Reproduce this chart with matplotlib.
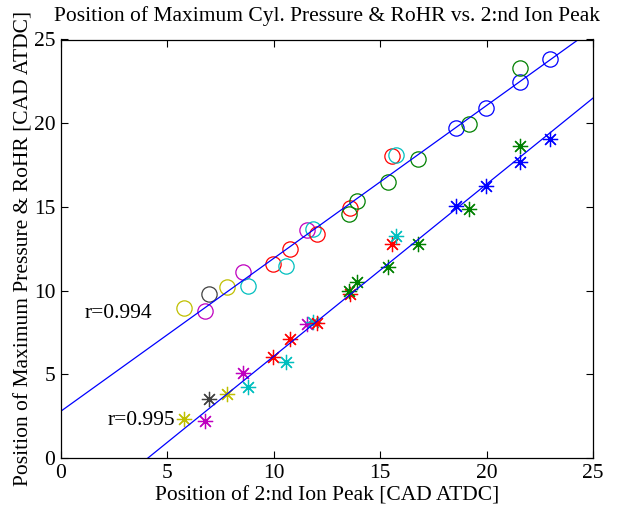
import matplotlib
matplotlib.use("Agg")
import matplotlib.pyplot as plt
import numpy as np

plt.rcParams['font.family'] = ['Liberation Serif', 'DejaVu Serif']

# Position of 2:nd ion peak for each cycle [CAD ATDC]
ion_peak = [5.78, 6.78, 6.97, 7.8, 8.55, 8.8, 9.97, 10.58, 10.76, 11.58,
            11.82, 12.03, 13.58, 13.52, 13.9, 15.55, 15.76, 15.39, 16.78,
            18.58, 19.18, 19.97, 21.57, 21.57, 22.98]
# Position of maximum cylinder pressure [CAD ATDC]
p_max_pos = [8.96, 8.78, 9.8, 10.2, 11.1, 10.27, 11.6, 11.47, 12.5, 13.6,
             13.7, 13.38, 14.93, 14.6, 15.35, 18.04, 18.1, 16.49, 17.86,
             19.71, 19.95, 20.9, 22.46, 23.3, 23.83]
# Position of maximum rate of heat release [CAD ATDC]
rohr_max_pos = [2.33, 2.21, 3.5, 3.82, 5.06, 4.22, 6.05, 5.75, 7.09, 7.99,
                8.14, 8.08, 9.8, 10.0, 10.53, 12.8, 13.26, 11.43, 12.8,
                15.07, 14.9, 16.25, 17.66, 18.64, 19.06]
# Operating point of each cycle (colour code)
run_id = ['y', 'm', 'k', 'y', 'm', 'c', 'r', 'c', 'r', 'm',
          'c', 'r', 'r', 'g', 'g', 'r', 'c', 'g', 'g',
          'b', 'g', 'b', 'b', 'g', 'b']

# Linear fits: slope, intercept
fit_pressure = (0.913, 2.8)
fit_rohr = (1.028, -4.2)
r_labels = ['r=0.994', 'r=0.995']

run_colors = {
    'b': (0, 0, 1),
    'g': (0, 0.5, 0),
    'r': (1, 0, 0),
    'c': (0, 0.75, 0.75),
    'm': (0.75, 0, 0.75),
    'y': (0.75, 0.75, 0),
    'k': (0.25, 0.25, 0.25),
}

FS = 15.5

fig = plt.figure(figsize=(6.21, 5.08), dpi=100)
ax = fig.add_axes([61 / 621, 50 / 508, 532 / 621, 418.5 / 508])

for x, yp, yr, rid in zip(ion_peak, p_max_pos, rohr_max_pos, run_id):
    c = run_colors[rid]
    ax.plot(x, yp, 'o', mfc='none', mec=c, ms=11, mew=0.9)
    ax.plot(x, yr, marker=(8, 2, 0), color=c, ms=11, mew=0.9, ls='none')

xx = np.array([0.0, 25.0])
for slope, icpt in (fit_pressure, fit_rohr):
    ax.plot(xx, slope * xx + icpt, color='b', lw=0.9)

ax.text(1.1, 8.66, r_labels[0], fontsize=FS, va='center', ha='left')
ax.text(2.2, 2.27, r_labels[1], fontsize=FS, va='center', ha='left')

ax.set_xlim(0, 25)
ax.set_ylim(0, 25)
ax.set_xticks([0, 5, 10, 15, 20, 25])
ax.set_yticks([0, 5, 10, 15, 20, 25])
ax.tick_params(direction='in', top=True, right=True, length=5, width=0.8,
               labelsize=FS, pad=4)
for s in ax.spines.values():
    s.set_linewidth(0.9)

ax.set_title('Position of Maximum Cyl. Pressure & RoHR vs. 2:nd Ion Peak',
             fontsize=FS, pad=13)
ax.set_xlabel('Position of 2:nd Ion Peak [CAD ATDC]', fontsize=FS, labelpad=2.5)
ax.set_ylabel('Position of Maximum Pressure & RoHR [CAD ATDC]', fontsize=FS,
              labelpad=0)

fig.savefig('out.png', dpi=100)
